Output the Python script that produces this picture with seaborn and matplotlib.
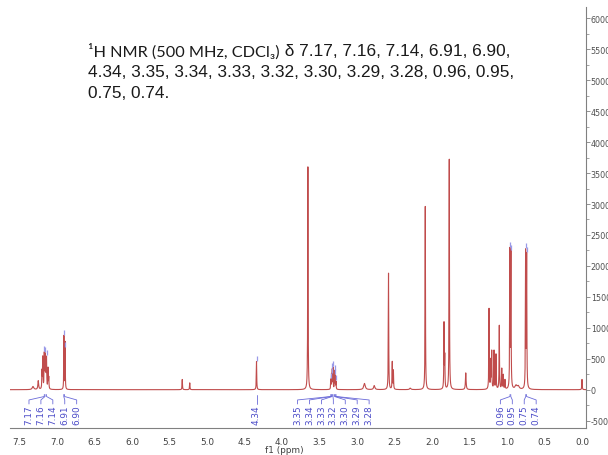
import numpy as np
import pandas as pd
import matplotlib
matplotlib.use("Agg")
import matplotlib.pyplot as plt
from matplotlib.ticker import MultipleLocator, FormatStrFormatter, FuncFormatter
import seaborn as sns

# ---------------- data ----------------
peak_ppm = [7.32, 7.25, 7.20, 7.19, 7.17, 7.16, 7.15, 7.14, 7.12, 7.11,
            6.908, 6.892, 5.33, 5.23, 4.34, 3.655,
            3.35, 3.34, 3.33, 3.32, 3.30, 3.29, 3.28,
            2.90, 2.77, 2.58, 2.53, 2.515, 2.29, 2.09, 1.84, 1.83, 1.77, 1.55,
            1.24, 1.217, 1.204, 1.173, 1.147, 1.103, 1.07, 1.05, 1.027,
            0.962, 0.948, 0.88, 0.85, 0.752, 0.738, 0.0]
peak_height = [50, 140, 280, 500, 540, 500, 420, 480, 330, 180,
               860, 760, 165, 110, 455, 3600,
               150, 230, 300, 340, 290, 210, 120,
               100, 65, 1880, 440, 300, 25, 2960, 1050, 500, 3720, 270,
               1300, 450, 600, 620, 560, 1030, 330, 230, 150,
               2200, 2150, 60, 50, 2180, 2120, 165]
peak_hw = [0.012, 0.006, 0.003, 0.003, 0.003, 0.003, 0.003, 0.003, 0.003, 0.003,
           0.0025, 0.0025, 0.003, 0.003, 0.003, 0.003,
           0.0025, 0.0025, 0.0025, 0.0025, 0.0025, 0.0025, 0.0025,
           0.012, 0.010, 0.003, 0.003, 0.003, 0.010, 0.003, 0.003, 0.003, 0.003, 0.005,
           0.003, 0.003, 0.003, 0.003, 0.003, 0.003, 0.003, 0.003, 0.003,
           0.003, 0.003, 0.015, 0.015, 0.003, 0.003, 0.003]

label_group_1 = ["7.17", "7.16", "7.14", "6.91", "6.90"]
label_group_2 = ["4.34"]
label_group_3 = ["3.35", "3.34", "3.33", "3.32", "3.30", "3.29", "3.28"]
label_group_4 = ["0.96", "0.95", "0.75", "0.74"]
label_groups = [label_group_1, label_group_2, label_group_3, label_group_4]

x_ticks = [7.5, 7.0, 6.5, 6.0, 5.5, 5.0, 4.5, 4.0, 3.5, 3.0, 2.5, 2.0, 1.5, 1.0, 0.5, 0.0]
y_ticks = list(range(-500, 6001, 500))

title_part_a = "\u00b9H NMR (500 MHz, CDCl\u2083)"
title_part_b = " \u03b4 7.17, 7.16, 7.14, 6.91, 6.90,"
title_line_2 = "4.34, 3.35, 3.34, 3.33, 3.32, 3.30, 3.29, 3.28, 0.96, 0.95,"
title_line_3 = "0.75, 0.74."
x_label = "f1 (ppm)"

# ---------------- figure ----------------
sns.set_style("white")
plt.rcParams['font.family'] = ['DejaVu Sans']
plt.rcParams['axes.unicode_minus'] = False

W, H = 608, 456
fig = plt.figure(figsize=(W / 100, H / 100), dpi=100)
fig.patch.set_facecolor("white")
ax = fig.add_axes([10 / W, 1 - 429.3 / H, 576 / W, 421.3 / H])

grid = np.arange(-0.06, 7.64, 0.0005)
spec = np.zeros_like(grid)
for p, h, w in zip(peak_ppm, peak_height, peak_hw):
    spec += h / (1.0 + ((grid - p) / w) ** 2)
df = pd.DataFrame({"ppm": grid, "intensity": spec})
sns.lineplot(data=df, x="ppm", y="intensity", ax=ax, color="#c04c4c",
             lw=0.8, estimator=None, sort=False)

ax.set_xlim(7.627, -0.053)
ax.set_ylim(-624, 6183)
ax.set_xlabel("")
ax.set_ylabel("")

for s in ["left", "top"]:
    ax.spines[s].set_visible(False)
for s in ["right", "bottom"]:
    ax.spines[s].set_color("#808080")
    ax.spines[s].set_linewidth(0.8)

ax.yaxis.tick_right()
ax.set_xticks(x_ticks)
ax.xaxis.set_minor_locator(MultipleLocator(0.1))
ax.xaxis.set_major_formatter(FormatStrFormatter("%.1f"))
ax.set_yticks(y_ticks)
ax.yaxis.set_minor_locator(MultipleLocator(250))
ax.yaxis.set_major_formatter(FuncFormatter(lambda v, p: f"{int(round(v))}"))

ax.tick_params(axis="x", which="major", direction="out", length=3, width=0.6,
               color="#808080", labelsize=6.4, labelcolor="#404040", pad=3.2)
ax.tick_params(axis="x", which="minor", direction="out", length=2, width=0.5,
               color="#808080")
ax.tick_params(axis="y", which="major", direction="out", length=3, width=0.6,
               color="#808080", labelsize=5.8, labelcolor="#505050", pad=0.5,
               right=True, left=False)
ax.tick_params(axis="y", which="minor", direction="out", length=2, width=0.5,
               color="#808080", right=True, left=False)

ax.text((284 - 10) / 576, (429.3 - 451) / 421.3, x_label, transform=ax.transAxes,
        ha="center", va="center", fontsize=6.4, color="#404040")

# ---------------- peak labels ----------------
spacing = 0.159
lab_color = "#4b4bc8"
line_color = "#6a6ad8"
for group in label_groups:
    vals = [float(t) for t in group]
    center = float(np.mean(vals))
    n = len(group)
    for i, (t, v) in enumerate(zip(group, vals)):
        lx = center + (n - 1) / 2 * spacing - i * spacing
        ax.plot([lx, lx, v, v], [-231, -166, -110, -78], color=line_color,
                lw=0.6, clip_on=False)
        ax.text(lx, -240, t, rotation=90, ha="center", va="top",
                fontsize=6.4, color=lab_color)
        win = (grid > v - 0.007) & (grid < v + 0.007)
        top = float(spec[win].max())
        ax.vlines(v, top + 10, top + 90, color="#9a9ae8", lw=0.9)

# ---------------- title text ----------------
fs_main = 12.4
base1, base2, base3 = 56.5, 77.5, 98.5
tA = fig.text(88 / W, 1 - base1 / H, title_part_a, family=["Lato", "DejaVu Sans"],
              fontsize=fs_main, color="#1a1a1a", va="baseline", ha="left")
fig.canvas.draw()
bb = tA.get_window_extent()
tA.set_fontsize(fs_main * 192.0 / bb.width)
fig.canvas.draw()
bb = tA.get_window_extent()
fig.text(bb.x1 / W, 1 - base1 / H, title_part_b, family=["Liberation Sans", "DejaVu Sans"],
         fontsize=fs_main, color="#1a1a1a", va="baseline", ha="left")
fig.text(88 / W, 1 - base2 / H, title_line_2, family=["Liberation Sans", "DejaVu Sans"],
         fontsize=fs_main, color="#1a1a1a", va="baseline", ha="left")
fig.text(88 / W, 1 - base3 / H, title_line_3, family=["Liberation Sans", "DejaVu Sans"],
         fontsize=fs_main, color="#1a1a1a", va="baseline", ha="left")

fig.savefig("out.png", dpi=100, facecolor="white")
